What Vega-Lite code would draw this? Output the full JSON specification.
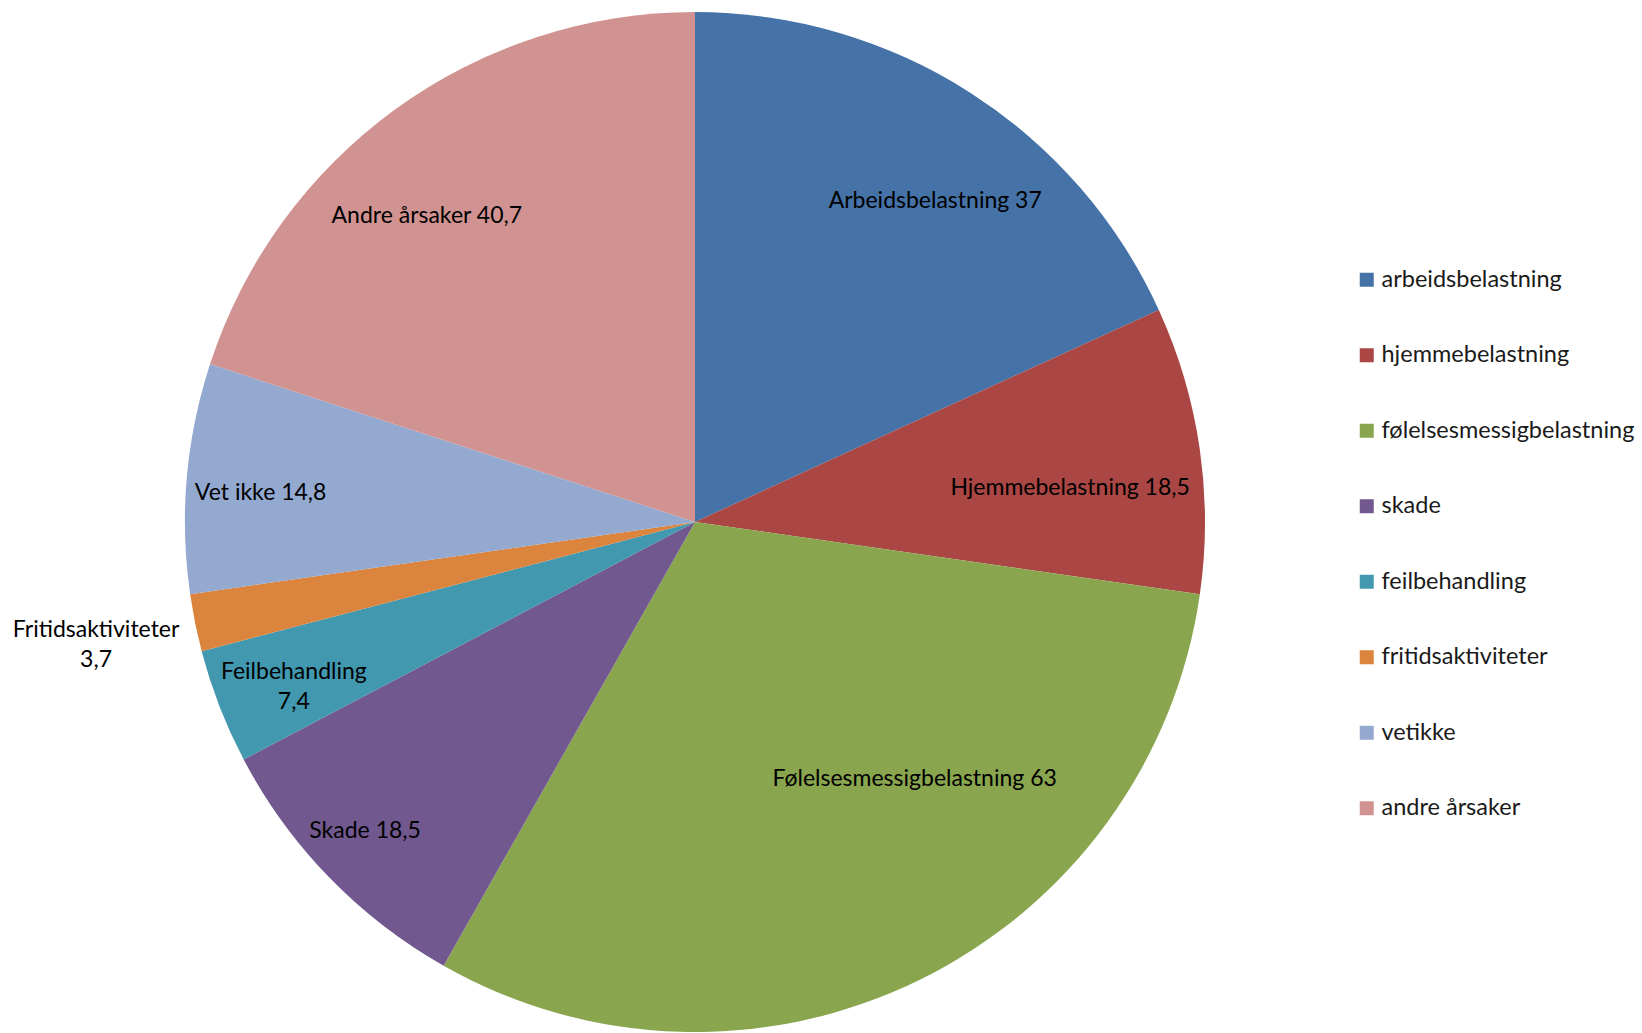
{
  "$schema": "https://vega.github.io/schema/vega-lite/v6.json",
  "width": 1390,
  "height": 1022,
  "autosize": {"type": "none"},
  "padding": {"left": 0, "top": 11, "right": 252, "bottom": 0},
  "background": "white",
  "config": {"view": {"stroke": null}, "font": "Lato", "text": {"fontSize": 23, "font": "Lato", "color": "#000000", "lineBreak": "\n", "lineHeight": 30}},
  "data": {
    "values": [
      {"idx": 1, "cat": "arbeidsbelastning", "label": "Arbeidsbelastning 37", "value": 37},
      {"idx": 2, "cat": "hjemmebelastning", "label": "Hjemmebelastning 18,5", "value": 18.5},
      {"idx": 3, "cat": "følelsesmessigbelastning", "label": "Følelsesmessigbelastning 63", "value": 63},
      {"idx": 4, "cat": "skade", "label": "Skade 18,5", "value": 18.5},
      {"idx": 5, "cat": "feilbehandling", "label": "Feilbehandling\n7,4", "value": 7.4},
      {"idx": 6, "cat": "fritidsaktiviteter", "label": "Fritidsaktiviteter\n3,7", "value": 3.7},
      {"idx": 7, "cat": "vetikke", "label": "Vet ikke 14,8", "value": 14.8},
      {"idx": 8, "cat": "andre årsaker", "label": "Andre årsaker 40,7", "value": 40.7}
    ]
  },
  "encoding": {
    "theta": {"field": "value", "type": "quantitative", "stack": true},
    "order": {"field": "idx", "type": "quantitative"}
  },
  "layer": [
    {
      "mark": {"type": "arc", "outerRadius": 510, "stroke": null},
      "encoding": {
        "color": {
          "field": "cat",
          "type": "nominal",
          "sort": null,
          "scale": {
            "domain": ["arbeidsbelastning", "hjemmebelastning", "følelsesmessigbelastning", "skade", "feilbehandling", "fritidsaktiviteter", "vetikke", "andre årsaker"],
            "range": ["#4572A7", "#AA4643", "#89A54E", "#71588F", "#4198AF", "#DB843D", "#93A9CF", "#D19392"]
          },
          "legend": {
            "title": null,
            "orient": "none",
            "legendX": 1355,
            "legendY": 257,
            "symbolType": "square",
            "symbolSize": 196,
            "symbolStrokeWidth": 0,
            "labelFontSize": 23.5,
            "labelFont": "Lato",
            "labelColor": "#1a1a1a",
            "labelOffset": 3,
            "rowPadding": 50.5,
            "labelLimit": 400
          }
        }
      }
    },
    {
      "mark": {"type": "text", "radius": 402, "dx": 23, "dy": 17},
      "encoding": {"text": {"condition": {"test": "datum.cat === 'arbeidsbelastning'", "field": "label"}, "value": ""}}
    },
    {
      "mark": {"type": "text", "radius": 402, "dx": -32, "dy": 19},
      "encoding": {"text": {"condition": {"test": "datum.cat === 'andre årsaker'", "field": "label"}, "value": ""}}
    },
    {
      "mark": {"type": "text", "radius": 375, "dx": 4, "dy": 20},
      "encoding": {"text": {"condition": {"test": "datum.cat === 'hjemmebelastning'", "field": "label"}, "value": ""}}
    },
    {
      "mark": {"type": "text", "radius": 337, "dx": 71, "dy": -45},
      "encoding": {"text": {"condition": {"test": "datum.cat === 'følelsesmessigbelastning'", "field": "label"}, "value": ""}}
    },
    {
      "mark": {"type": "text", "radius": 440, "dx": -14, "dy": 3},
      "encoding": {"text": {"condition": {"test": "datum.cat === 'skade'", "field": "label"}, "value": ""}}
    },
    {
      "mark": {"type": "text", "radius": 440, "dx": 9, "dy": -9},
      "encoding": {"text": {"condition": {"test": "datum.cat === 'feilbehandling'", "field": "label"}, "value": ""}}
    },
    {
      "mark": {"type": "text", "radius": 440, "dx": 4, "dy": 9},
      "encoding": {"text": {"condition": {"test": "datum.cat === 'vetikke'", "field": "label"}, "value": ""}}
    },
    {
      "mark": {"type": "text", "radius": 611, "dx": 0, "dy": -13},
      "encoding": {"text": {"condition": {"test": "datum.cat === 'fritidsaktiviteter'", "field": "label"}, "value": ""}}
    }
  ]
}
